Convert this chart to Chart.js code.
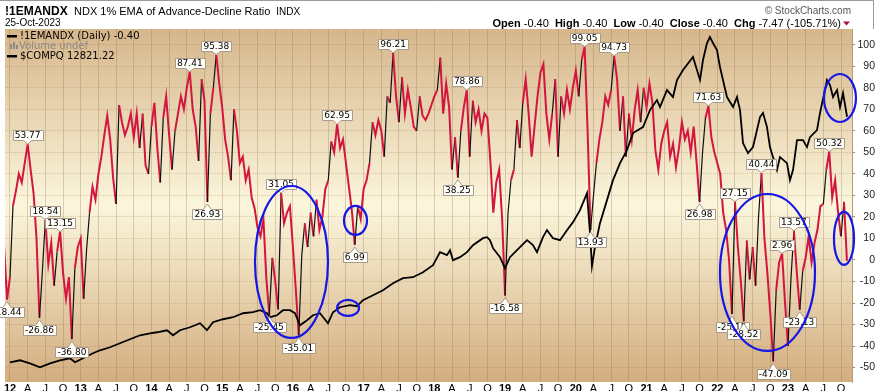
<!DOCTYPE html>
<html>
<head>
<meta charset="utf-8">
<script src="https://cdn.jsdelivr.net/npm/chart.js@4.4.0/dist/chart.umd.min.js"></script>
<style>
  html, body { margin: 0; padding: 0; background: #fff; }
</style>
</head>
<body>
<canvas id="myChart" width="876" height="391"></canvas>
<script>
// x values are months counted from Jan 2012 (0 = Jan 2012)

// !1EMANDX, two readings a month from Dec 2011
const oscStartMonth = -1;
const oscStepMonths = 0.5;
const oscValues = [
  6, -18.44, -8, 25, 32, 40, 36, 45, 53.77, 42, 31, 10, -26.86, -5, 18.54, -2, 8, -12, 4, 13.15, -6, -18, -8, -36.8, -4, 6, 10,
  -18, 5, 22, 34, 28, 40, 48, 58, 67, 56, 38, 26, 72, 64, 58, 62, 68, 57, 68, 52, 68, 44, 40, 62,
  73, 52, 36, 66, 76, 58, 42, 60, 68, 76, 70, 80, 87.41, 70, 62, 46, 84, 74, 26.93, 68, 80, 95.38, 82, 71,
  56, 48, 37, 70, 60, 45, 48, 37, 42, 29, 24, 15, 11, 19, -9, -25.45, 1, -10, -23, 31.05, 17, 22, 25, 6,
  -14, -35.01, 2, 17, 6, 22, 11, 28, 14, 20, 33, 37, 55, 50, 62.95, 52, 56, 45, 34, 23, 6.99, 25, 19, 33,
  37, 45, 64, 58, 65, 60, 48, 76, 73, 96.21, 76, 64, 85, 68, 79, 71, 62, 60, 76, 67, 65, 68, 72, 76,
  79, 94, 68, 82, 71, 42, 57, 38.25, 60, 71, 78.86, 48, 74, 64, 70, 60, 68, 66, 46, 22, 36, 42, 19, -16.58,
  22, 37, 42, 65, 52, 73, 84, 68, 48, 62, 76, 87, 91, 68, 56, 68, 84, 48, 76, 68, 79, 70, 80, 88,
  76, 93, 99.05, 60, 13.93, 30, 45, 56, 64, 76, 72, 79, 94.73, 84, 60, 76, 48, 68, 56, 70, 79, 64, 80, 71,
  82, 73, 51, 42, 54, 60, 64, 48, 54, 43, 52, 64, 56, 60, 50, 62, 45, 26.98, 50, 66, 71.63, 57, 50, 45,
  40, 22, 14, 0, -25.15, 27.15, 6, -10, -28.52, 9, -9, 6, -12, 20, 40.44, 10, -6, -25, -47.09, -14, -1, 2.96, -20, -40,
  -9, 13.57, -6, -23.13, -5, 1, 11, -1, 8, 14, 25, 26, 42, 50.32, 29, 37, 22, 11, 27, -0.4
];

// $COMPQ
const compMonths = [
  0, 1.7, 3.39, 5.09, 6.79, 8.48, 10.18, 11.03, 12.39, 14.08,
  15.27, 16.97, 18.66, 20.36, 22.06, 23.75, 24.94, 26.64, 27.66, 28.84,
  30.54, 32.24, 33.42, 34.44, 36.14, 37.84, 39.53, 41.23, 42.42, 43.61,
  44.11, 45.3, 46.32, 47.51, 48.35, 49.2, 50.39, 51.41, 52.6, 53.95,
  54.8, 55.99, 57.69, 58.87, 59.89, 61.59, 63.28, 64.98, 66.68, 68.37,
  70.07, 71.77, 72.96, 74.14, 74.65, 75.16, 76.35, 77.54, 78.55, 80.25,
  80.93, 81.44, 81.95, 83.14, 83.98, 84.83, 86.02, 87.72, 88.73, 89.41,
  90.43, 91.11, 92.13, 93.32, 94.5, 95.52, 96.71, 97.9, 98.41, 98.74,
  99.25, 100.1, 101.29, 102.31, 103.5, 104.68, 105.7, 107.4, 108.58, 109.77,
  110.28, 111.47, 112.49, 113.17, 114.19, 115.88, 117.07, 117.58, 118.26, 118.76,
  119.27, 119.95, 120.46, 120.97, 121.65, 122.67, 123.35, 123.86, 124.37, 125.21,
  126.06, 127.25, 127.76, 128.44, 128.94, 129.45, 130.13, 130.64, 131.83, 132.34,
  132.85, 133.53, 134.54, 135.22, 135.73, 136.92, 137.43, 138.62, 139.13, 139.64,
  140.32, 140.83, 141.34, 142.02
];
const compValues = [
  2804, 2886, 2763, 2600, 2763, 2886, 2968, 2804, 2968, 3172,
  3294, 3417, 3580, 3743, 3907, 3988, 4029, 4111, 3907, 4111,
  4233, 4397, 4111, 4438, 4560, 4642, 4805, 4846, 4928, 4805,
  4642, 4723, 4928, 4928, 4805, 4315, 4519, 4723, 4805, 4397,
  4846, 5050, 5132, 5091, 5336, 5540, 5744, 6030, 6234, 6275,
  6479, 6765, 7296, 7173, 7377, 6969, 7091, 7296, 7582, 7867,
  7908, 7786, 7459, 7091, 6642, 7091, 7377, 7786, 7582, 7296,
  7908, 8194, 7867, 7786, 8194, 8521, 9011, 9705, 8071, 6724,
  7500, 8480, 9419, 10235, 10930, 11460, 12154, 12399, 13093, 13502,
  13216, 13910, 13624, 14318, 14727, 15258, 14318, 15135, 15829, 16074,
  15829, 15543, 14849, 14318, 13624, 13216, 13624, 13093, 11745, 11337,
  11582, 12807, 12970, 12399, 11582, 11174, 10643, 11174, 10929, 10235,
  10643, 11868, 11868, 11582, 11990, 12276, 12970, 14318, 14114, 13624,
  13910, 13216, 13788, 12821.22
];

// value tags on the oscillator
const peakMonths = [3, 6, 8.5, 30.5, 35, 46, 55.5, 65, 77.5, 97.5, 102.5, 118.5, 123, 127.5, 131, 133, 139];
const peakValues = [53.77, 18.54, 13.15, 87.41, 95.38, 31.05, 62.95, 96.21, 78.86, 99.05, 94.73, 71.63, 27.15, 40.44, 2.96, 13.57, 50.32];
const troughMonths = [-0.5, 5, 10.5, 33.5, 44, 49, 58.5, 76, 84, 98.5, 117, 122.5, 124.5, 129.5, 134];
const troughValues = [-18.44, -26.86, -36.80, 26.93, -25.45, -35.01, 6.99, 38.25, -16.58, 13.93, 26.98, -25.15, -28.52, -47.09, -23.13];

const quarterLetters = ['', 'A', 'J', 'O'];

// hand drawn blue rings (centre and radius in axis units)
const rings = [
  {month: 47.76, value: -0.93, dm: 6.19, dv: 35.3},
  {month: 58.62, value: 18.35, dm: 1.95, dv: 6.73},
  {month: 57.35, value: -22.29, dm: 1.87, dv: 3.72},
  {month: 128.52, value: -5.81, dm: 8.06, dv: 36.46},
  {month: 140.82, value: 75.24, dm: 2.71, dv: 11.15},
  {month: 141.5, value: 9.99, dm: 1.70, dv: 12.31}
];

const SANS = '"Liberation Sans", Arial, sans-serif';
const VERD = '"DejaVu Sans", Verdana, sans-serif';
const RED = '#d4163f';

const oscData = oscValues.map((v, i) => ({x: oscStartMonth + i * oscStepMonths, y: v}));
const compData = compMonths.map((m, i) => ({x: m, y: compValues[i]}));

function drawTag(ctx, px, py, text, above) {
  ctx.save();
  ctx.font = '9px ' + VERD;
  const w = Math.round(ctx.measureText(text).width) + 4;
  const h = 10;
  const x0 = Math.round(px - w / 2) + 0.5;
  const tip = above ? py : py + 2;
  const y0 = above ? Math.round(tip - 4 - h) + 0.5 : Math.round(tip + 5.5) + 0.5;
  ctx.beginPath();
  if (above) {
    ctx.moveTo(x0, y0);
    ctx.lineTo(x0 + w, y0);
    ctx.lineTo(x0 + w, y0 + h);
    ctx.lineTo(px + 4, y0 + h);
    ctx.lineTo(px, tip);
    ctx.lineTo(px - 4, y0 + h);
    ctx.lineTo(x0, y0 + h);
  } else {
    ctx.moveTo(x0, y0);
    ctx.lineTo(px - 4, y0);
    ctx.lineTo(px, tip);
    ctx.lineTo(px + 4, y0);
    ctx.lineTo(x0 + w, y0);
    ctx.lineTo(x0 + w, y0 + h);
    ctx.lineTo(x0, y0 + h);
  }
  ctx.closePath();
  ctx.fillStyle = '#fffef8';
  ctx.fill();
  ctx.strokeStyle = '#a89a8c';
  ctx.lineWidth = 1;
  ctx.stroke();
  ctx.fillStyle = '#000';
  ctx.textAlign = 'center';
  ctx.textBaseline = 'middle';
  ctx.fillText(text, px, y0 + h / 2 + 0.5);
  ctx.restore();
}

const background = {
  id: 'background',
  beforeDraw(chart) {
    const {ctx, chartArea: a, width, height} = chart;
    ctx.save();
    ctx.fillStyle = '#fff';
    ctx.fillRect(0, 0, width, height);
    const g = ctx.createLinearGradient(0, a.top, 0, a.bottom);
    g.addColorStop(0, '#d6b68b');
    g.addColorStop(0.5, '#fbf6dc');
    g.addColorStop(1, '#d3ad7f');
    ctx.fillStyle = g;
    ctx.fillRect(a.left, a.top, a.right - a.left, a.bottom - a.top);
    ctx.restore();
  }
};

const marks = {
  id: 'marks',
  afterDatasetsDraw(chart) {
    const {ctx, scales: {x, y}} = chart;
    peakMonths.forEach((m, i) => drawTag(ctx, x.getPixelForValue(m), y.getPixelForValue(peakValues[i]), peakValues[i].toFixed(2), true));
    troughMonths.forEach((m, i) => drawTag(ctx, x.getPixelForValue(m), y.getPixelForValue(troughValues[i]), troughValues[i].toFixed(2), false));

    ctx.save();
    ctx.strokeStyle = '#1616e6';
    ctx.lineWidth = 2.2;
    rings.forEach(r => {
      const cx = x.getPixelForValue(r.month);
      const cy = y.getPixelForValue(r.value);
      const rx = Math.abs(x.getPixelForValue(r.month + r.dm) - cx);
      const ry = Math.abs(y.getPixelForValue(r.value + r.dv) - cy);
      ctx.beginPath();
      ctx.ellipse(cx, cy, rx, ry, 0, 0, Math.PI * 2);
      ctx.stroke();
    });
    ctx.restore();

    // legend box inside the plot
    ctx.save();
    ctx.font = '10px ' + VERD;
    ctx.textBaseline = 'middle';
    ctx.fillStyle = '#000';
    ctx.fillRect(7, 35, 10, 2.5);
    ctx.fillText('!1EMANDX (Daily) -0.40', 20, 36.5);
    ctx.fillStyle = '#8a8a8a';
    ctx.fillRect(10, 44, 2, 5);
    ctx.fillRect(13, 42, 2, 7);
    ctx.fillRect(16, 45, 2, 4);
    ctx.fillText('Volume undef', 19, 46.5);
    ctx.fillStyle = '#000';
    ctx.fillRect(7, 55, 10, 2.5);
    ctx.fillText('$COMPQ 12821.22', 20, 56.5);
    ctx.restore();
  }
};

const header = {
  id: 'header',
  afterDraw(chart) {
    const ctx = chart.ctx;
    ctx.save();
    ctx.strokeStyle = '#9a9a9a';
    ctx.lineWidth = 1;
    ctx.beginPath();
    ctx.moveTo(0, 0.5);
    ctx.lineTo(873.5, 0.5);
    ctx.lineTo(873.5, 29);
    ctx.stroke();

    ctx.fillStyle = '#000';
    ctx.textBaseline = 'alphabetic';
    ctx.font = 'bold 12px ' + SANS;
    ctx.fillText('!1EMANDX', 5, 15);
    ctx.font = '11px ' + SANS;
    const sub = 'NDX 1% EMA of Advance-Decline Ratio';
    ctx.fillText(sub, 74, 14.5);
    const subW = ctx.measureText(sub).width;
    ctx.font = '10px ' + SANS;
    ctx.fillText('INDX', 74 + subW + 6, 14.5);
    ctx.fillText('25-Oct-2023', 5, 26);

    ctx.fillStyle = '#555';
    ctx.textAlign = 'right';
    ctx.fillText('\u00A9 StockCharts.com', 851, 14);

    // quote line, drawn right to left
    const parts = [
      ['Open', true], [' -0.40  ', false], ['High', true], [' -0.40  ', false],
      ['Low', true], [' -0.40  ', false], ['Close', true], [' -0.40  ', false],
      ['Chg', true], [' -7.47 (-105.71%)', false]
    ];
    ctx.textAlign = 'left';
    let total = 0;
    parts.forEach(p => {
      ctx.font = (p[1] ? 'bold ' : '') + '11px ' + SANS;
      total += ctx.measureText(p[0]).width;
    });
    let xx = 841 - total;
    ctx.fillStyle = '#000';
    parts.forEach(p => {
      ctx.font = (p[1] ? 'bold ' : '') + '11px ' + SANS;
      ctx.fillText(p[0], xx, 26.5);
      xx += ctx.measureText(p[0]).width;
    });
    ctx.fillStyle = '#a8102e';
    ctx.beginPath();
    ctx.moveTo(843, 21.5);
    ctx.lineTo(850, 21.5);
    ctx.lineTo(846.5, 25.5);
    ctx.closePath();
    ctx.fill();
    ctx.restore();
  }
};

const gridColor = 'rgba(150, 112, 66, 0.30)';
const upMove = c => c.p1.parsed.y - c.p0.parsed.y > 14;

new Chart(document.getElementById('myChart'), {
  type: 'line',
  data: {
    datasets: [
      {
        label: '$COMPQ',
        data: compData,
        yAxisID: 'y2',
        borderColor: '#000',
        borderWidth: 1.8,
        pointRadius: 0,
        order: 0
      },
      {
        label: '!1EMANDX',
        data: oscData,
        yAxisID: 'y',
        borderColor: RED,
        borderWidth: 2,
        pointRadius: 0,
        order: 1,
        segment: {
          borderColor: c => (upMove(c) ? '#111' : RED),
          borderWidth: c => (upMove(c) ? 1.2 : 2)
        }
      }
    ]
  },
  options: {
    responsive: false,
    animation: false,
    events: [],
    layout: { padding: { left: 5, top: 29, right: 1, bottom: 0 } },
    plugins: { legend: { display: false }, tooltip: { enabled: false } },
    scales: {
      x: {
        type: 'linear',
        min: -0.848,
        max: 142.86,
        afterFit: s => { s.height = 9; },
        ticks: {
          stepSize: 3,
          includeBounds: false,
          autoSkip: false,
          maxRotation: 0,
          padding: 0,
          color: '#000',
          font: c => ({ family: SANS, size: 11, weight: (c.tick && Math.round(c.tick.value) % 12 === 0) ? 'bold' : 'normal' }),
          callback: v => {
            const q = Math.round(v) % 12;
            if (q === 0) return String(12 + Math.round(v) / 12);
            return quarterLetters[q / 3];
          }
        },
        grid: { color: gridColor, drawTicks: false },
        border: { display: false }
      },
      y: {
        position: 'right',
        min: -56.7,
        max: 107.3,
        afterFit: s => { s.width = 23; },
        ticks: {
          stepSize: 10,
          includeBounds: false,
          crossAlign: 'far',
          color: '#222',
          padding: 2,
          font: { family: SANS, size: 10.5 }
        },
        grid: { color: gridColor, tickLength: 3, tickColor: '#9c8a74' },
        border: { display: true, color: '#b49a7c', dash: [1, 1] }
      },
      y2: {
        display: false,
        min: 2000,
        max: 16400
      }
    }
  },
  plugins: [background, marks, header]
});
</script>
</body>
</html>
